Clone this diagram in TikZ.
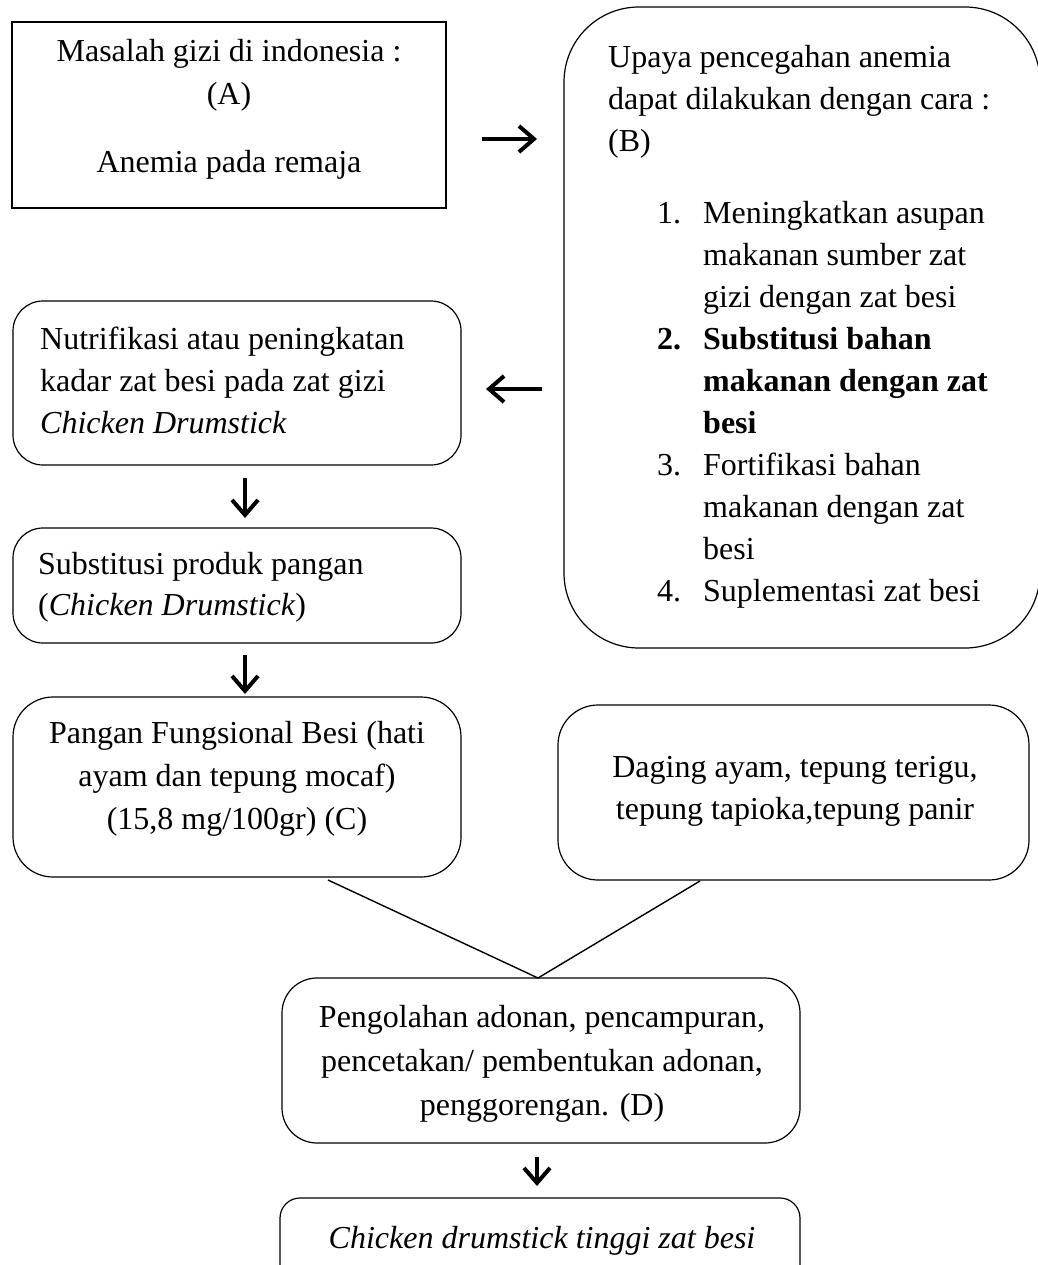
\documentclass[tikz,border=0pt]{standalone}
\usepackage{fontspec}
\setmainfont{Liberation Serif}
\usetikzlibrary{arrows.meta}
\newcommand{\tbox}[2]{\begin{minipage}[t]{#1}#2\end{minipage}}
\begin{document}
\begin{tikzpicture}[x=1pt,y=-1pt,
  every node/.style={font=\fontsize{32}{42}\selectfont},
  box/.style={draw=black, line width=1.2pt, rounded corners=30pt, inner sep=0pt},
  sqbox/.style={draw=black, line width=1.2pt, inner sep=0pt},
  ltxt/.style={inner sep=0pt, anchor=base west},
  ctxt/.style={inner sep=0pt, anchor=base},
  arr/.style={line width=4pt, -{Straight Barb[length=15pt,width=26pt]}},
  conn/.style={line width=1.4pt}]
\useasboundingbox (0,0) rectangle (1037,1265);

% boxes
\node[sqbox, minimum width=434pt, minimum height=186pt] (A) at (229,115) {};
\node[box, rounded corners=75pt, minimum width=476pt, minimum height=641pt] (B) at (802,327.5) {};
\node[box, minimum width=448pt, minimum height=164pt] (nut) at (237,383) {};
\node[box, minimum width=448pt, minimum height=115pt] (sub) at (237,585.5) {};
\node[box, rounded corners=40pt, minimum width=448pt, minimum height=180pt] (pan) at (237,787) {};
\node[box, rounded corners=40pt, minimum width=471pt, minimum height=175pt] (dag) at (793.5,792.5) {};
\node[box, rounded corners=35pt, minimum width=518pt, minimum height=165pt] (proc) at (541,1060.5) {};
\node[box, rounded corners=20pt, minimum width=520pt, minimum height=102pt] (fin) at (540,1249) {};

% texts
\node[ctxt] (tA) at (229,62) {\tbox{430pt}{\centering\fontsize{32}{43}\selectfont Masalah gizi di indonesia :\\(A)\\[25pt]Anemia pada remaja}};
\node[ltxt] (tB) at (608,68) {\tbox{430pt}{\raggedright\fontsize{32}{42}\selectfont
Upaya pencegahan anemia\\
dapat dilakukan dengan cara :\\
(B)\\[30pt]
\hspace*{49pt}\makebox[46pt][l]{1.}Meningkatkan asupan\\
\hspace*{95pt}makanan sumber zat\\
\hspace*{95pt}gizi dengan zat besi\\
\hspace*{49pt}\makebox[46pt][l]{\textbf{2.}}\textbf{Substitusi bahan}\\
\hspace*{95pt}\textbf{makanan dengan zat}\\
\hspace*{95pt}\textbf{besi}\\
\hspace*{49pt}\makebox[46pt][l]{3.}Fortifikasi bahan\\
\hspace*{95pt}makanan dengan zat\\
\hspace*{95pt}besi\\
\hspace*{49pt}\makebox[46pt][l]{4.}Suplementasi zat besi}};
\node[ltxt] (tnut) at (40,349) {\tbox{420pt}{\raggedright\fontsize{32}{42}\selectfont Nutrifikasi atau peningkatan\\kadar zat besi pada zat gizi\\\textit{Chicken Drumstick}}};
\node[ltxt] (tsub) at (38,574) {\tbox{420pt}{\raggedright\fontsize{32}{41}\selectfont Substitusi produk pangan\\(\textit{Chicken Drumstick})}};
\node[ctxt] (tpan) at (237,743) {\tbox{440pt}{\centering\fontsize{32}{43}\selectfont Pangan Fungsional Besi (hati\\ayam dan tepung mocaf)\\(15,8 mg/100gr) (C)}};
\node[ctxt] (tdag) at (795,777) {\tbox{460pt}{\centering\fontsize{32}{42}\selectfont Daging ayam, tepung terigu,\\tepung tapioka,tepung panir}};
\node[ctxt] (tproc) at (542,1027) {\tbox{510pt}{\centering\fontsize{32}{44}\selectfont Pengolahan adonan, pencampuran,\\pencetakan/ pembentukan adonan,\\penggorengan. (D)}};
\node[ctxt] (tfin) at (542,1248) {\textit{Chicken drumstick tinggi zat besi}};

% arrows
\coordinate (r1s) at (482,139); \coordinate (r1e) at (537,139);
\coordinate (l1s) at (542,389); \coordinate (l1e) at (486,389);
\coordinate (d1s) at (245,478); \coordinate (d1e) at (245,518);
\coordinate (d2s) at (245,655); \coordinate (d2e) at (245,694);
\coordinate (d3s) at (537,1157); \coordinate (d3e) at (537,1186);
\draw[arr] (r1s) -- (r1e);
\draw[arr] (l1s) -- (l1e);
\draw[arr] (d1s) -- (d1e);
\draw[arr] (d2s) -- (d2e);
\draw[arr] (d3s) -- (d3e);

% merging lines
\coordinate (la) at (328,880);
\coordinate (ra) at (700,881);
\coordinate (apex) at (538,978);
\draw[conn] (la) -- (apex) -- (ra);
\end{tikzpicture}
\end{document}
